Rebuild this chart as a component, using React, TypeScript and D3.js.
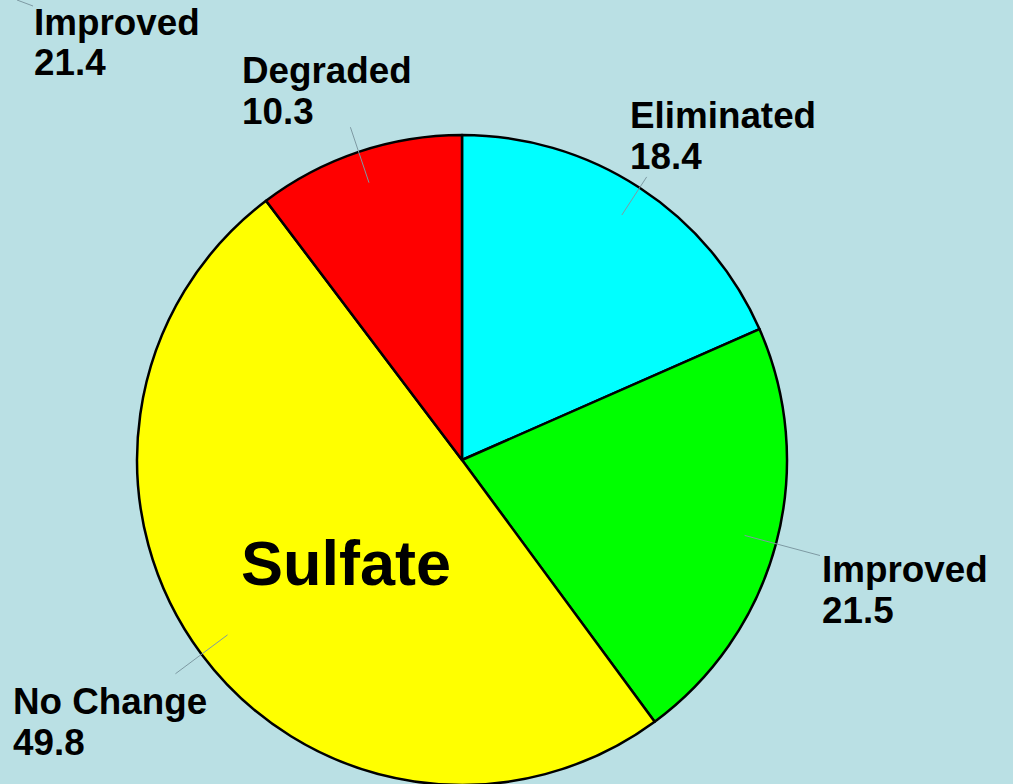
import React, { useRef, useEffect } from "react";
import * as d3 from "d3";

// slice data, clockwise from 12 o'clock
const categories = ["Eliminated", "Improved", "No Change", "Degraded"];
const values = [18.4, 21.5, 49.8, 10.3];
const colors = ["#00FFFF", "#00FF00", "#FFFF00", "#FF0000"];

// label from the neighbouring (off-canvas) chart
const strayLabel = ["Improved", "21.4"];
const title = "Sulfate";

const App = () => {
  const svgRef = useRef<SVGSVGElement>(null);

  useEffect(() => {
    document.body.style.margin = "0";
    const svg = d3.select(svgRef.current);
    svg.selectAll("*").remove();

    const width = 1013;
    const height = 784;
    const cx = 462;
    const cy = 460;
    const radius = 325;
    const font = "'Liberation Sans', Arial, sans-serif";
    const labelSize = 36.8;

    svg.append("rect").attr("width", width).attr("height", height).attr("fill", "#BAE0E4");

    const data = categories.map((c, i) => ({ name: c, value: values[i], color: colors[i] }));

    const pie = d3
      .pie<any>()
      .value((d) => d.value)
      .sort(null);
    const arcs = pie(data);

    const arc = d3.arc<any>().innerRadius(0).outerRadius(radius);

    const g = svg.append("g").attr("transform", `translate(${cx},${cy})`);

    g.selectAll("path")
      .data(arcs)
      .enter()
      .append("path")
      .attr("d", arc)
      .attr("fill", (d) => d.data.color)
      .attr("stroke", "#000")
      .attr("stroke-width", 2.5)
      .attr("stroke-linejoin", "round");

    // label layout: leader end (fraction of radius) and text anchor position
    const layout: Record<string, { lead: number; x: number; y: number }> = {
      Eliminated: { lead: 1.04, x: 630, y: 128 },
      Improved: { lead: 1.14, x: 822, y: 582 },
      "No Change": { lead: 1.1, x: 13, y: 714 },
      Degraded: { lead: 1.08, x: 242, y: 83 },
    };

    arcs.forEach((a) => {
      const mid = (a.startAngle + a.endAngle) / 2;
      const L = layout[a.data.name];
      const p = (r: number) => [Math.sin(mid) * r, -Math.cos(mid) * r];
      const [x1, y1] = p(radius * 0.9);
      const [x2, y2] = p(radius * L.lead);
      g.append("line")
        .attr("x1", x1)
        .attr("y1", y1)
        .attr("x2", x2)
        .attr("y2", y2)
        .attr("stroke", "#7E9AA3")
        .attr("stroke-width", 1);

      const t = svg
        .append("text")
        .attr("x", L.x)
        .attr("y", L.y)
        .attr("font-family", font)
        .attr("font-weight", "bold")
        .attr("font-size", labelSize)
        .attr("fill", "#000");
      t.append("tspan").attr("x", L.x).text(a.data.name);
      t.append("tspan").attr("x", L.x).attr("dy", 41).text(d3.format(".1f")(a.data.value));
    });

    // stray label + leader of the neighbouring chart
    svg
      .append("line")
      .attr("x1", 17)
      .attr("y1", 0)
      .attr("x2", 33)
      .attr("y2", 6)
      .attr("stroke", "#7E9AA3")
      .attr("stroke-width", 1);
    const st = svg
      .append("text")
      .attr("x", 34)
      .attr("y", 35)
      .attr("font-family", font)
      .attr("font-weight", "bold")
      .attr("font-size", labelSize)
      .attr("fill", "#000");
    st.append("tspan").attr("x", 34).text(strayLabel[0]);
    st.append("tspan").attr("x", 34).attr("dy", 40).text(strayLabel[1]);

    svg
      .append("text")
      .attr("x", 241)
      .attr("y", 585)
      .attr("font-family", font)
      .attr("font-weight", "bold")
      .attr("font-size", 63)
      .attr("fill", "#000")
      .text(title);
  }, []);

  return (
    <svg
      ref={svgRef}
      width={1013}
      height={784}
      style={{ position: "absolute", left: 0, top: 0, display: "block" }}
    ></svg>
  );
};

export default App;
